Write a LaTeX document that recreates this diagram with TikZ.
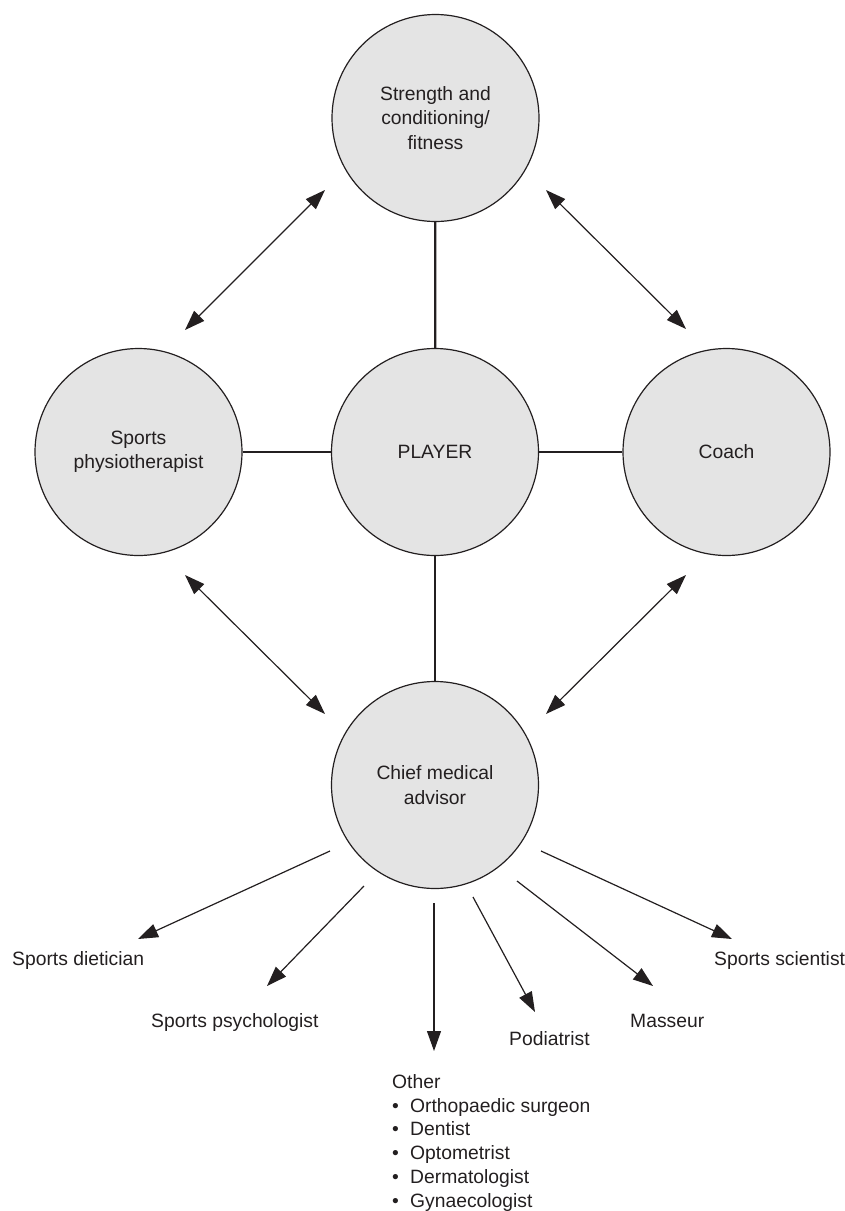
\documentclass[tikz,border=0pt]{standalone}
\usepackage{fontspec}
\setmainfont{Liberation Sans}
\usetikzlibrary{arrows.meta}
\definecolor{ink}{HTML}{231F20}
\definecolor{disc}{HTML}{E4E4E4}
\begin{document}
\begin{tikzpicture}[x=1pt,y=-1pt,
  every node/.style={font=\fontsize{19.3}{24.5}\selectfont, text=ink},
  role/.style={circle, draw=ink, fill=disc, line width=1.2pt, minimum size=207pt, inner sep=0pt, align=center},
  link/.style={draw=ink, line width=2.2pt},
  twoway/.style={draw=ink, line width=1.2pt, {Triangle[length=20pt,width=14pt]}-{Triangle[length=20pt,width=14pt]}},
  oneway/.style={draw=ink, line width=1.2pt, -{Triangle[length=20pt,width=14pt]}},
  lbl/.style={anchor=base west, inner sep=0pt}
]
\useasboundingbox (0,0) rectangle (844,1211);

% circles
\node[role] (top)    at (435.5,118) {Strength and\\conditioning/\\fitness};
\node[role] (physio) at (138.5,452) {Sports\\physiotherapist};
\node[role] (player) at (435,452)   {PLAYER};
\node[role] (coach)  at (726.5,452) {Coach};
\node[role] (chief)  at (435,785)   {Chief medical\\advisor};

% links to player
\draw[link] (top) -- (player);
\draw[link] (physio) -- (player);
\draw[link] (player) -- (coach);
\draw[link] (player) -- (chief);

% two-way arrows
\coordinate (tlA) at (325,190); \coordinate (tlB) at (185,330);
\coordinate (trA) at (546,190); \coordinate (trB) at (686,329);
\coordinate (blA) at (185,575); \coordinate (blB) at (325,714);
\coordinate (brA) at (686,575); \coordinate (brB) at (546,714);
\draw[twoway] (tlA) -- (tlB);
\draw[twoway] (trA) -- (trB);
\draw[twoway] (blA) -- (blB);
\draw[twoway] (brA) -- (brB);

% labels
\node[lbl] (diet)  at (12,965)   {Sports dietician};
\node[lbl] (psych) at (151,1027) {Sports psychologist};
\node[lbl] (podia) at (509,1045) {Podiatrist};
\node[lbl] (mass)  at (630,1027) {Masseur};
\node[lbl] (sci)   at (714,965)  {Sports scientist};
\node[anchor=north west, inner sep=0pt, align=left, font=\fontsize{19.3}{23.8}\selectfont] (other) at (392,1074)
  {Other\\
   \makebox[18pt][l]{\textbullet}Orthopaedic surgeon\\
   \makebox[18pt][l]{\textbullet}Dentist\\
   \makebox[18pt][l]{\textbullet}Optometrist\\
   \makebox[18pt][l]{\textbullet}Dermatologist\\
   \makebox[18pt][l]{\textbullet}Gynaecologist};

% one-way arrows from chief medical advisor
\coordinate (s1) at (330,851); \coordinate (e1) at (138,939);
\coordinate (s2) at (364,886); \coordinate (e2) at (267,986);
\coordinate (s3) at (434,903); \coordinate (e3) at (434,1051);
\coordinate (s4) at (473,897); \coordinate (e4) at (535,1012);
\coordinate (s5) at (517,881); \coordinate (e5) at (653,986);
\coordinate (s6) at (541,851); \coordinate (e6) at (732,939);
\draw[oneway] (s1) -- (e1);
\draw[oneway] (s2) -- (e2);
\draw[oneway] (s3) -- (e3);
\draw[oneway] (s4) -- (e4);
\draw[oneway] (s5) -- (e5);
\draw[oneway] (s6) -- (e6);
\end{tikzpicture}
\end{document}
